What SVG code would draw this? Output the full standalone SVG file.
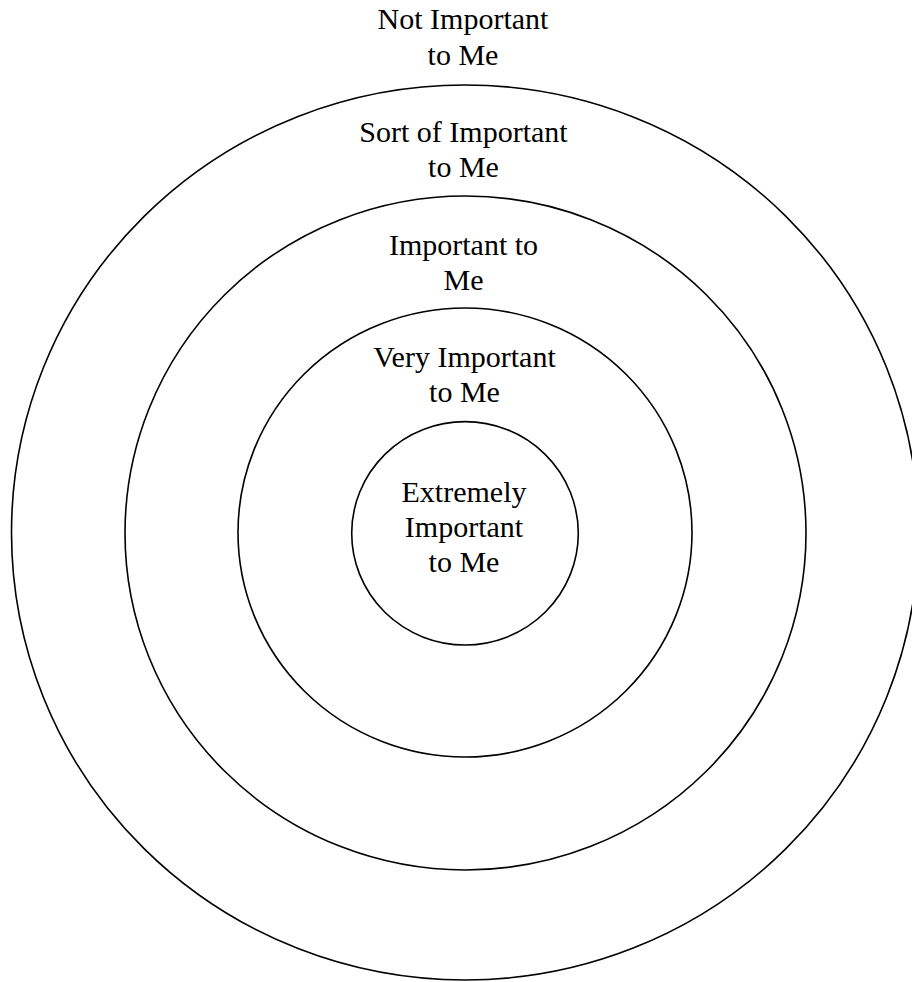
<svg xmlns="http://www.w3.org/2000/svg" width="912" height="982" viewBox="0 0 912 982">
  <style>
    .ring { fill: none; stroke: #000; stroke-width: 1.6; }
    .lbl { font-family: "Liberation Serif", "Times New Roman", serif; font-size: 30px; fill: #000; text-anchor: middle; }
  </style>
  <rect x="0" y="0" width="912" height="982" fill="#fff"/>
  <g id="connectors"></g>
  <g id="not-important">
    <text class="lbl" x="463" y="29">Not Important</text>
    <text class="lbl" x="463" y="65">to Me</text>
  </g>
  <g id="sort-of-important">
    <ellipse class="ring" cx="465" cy="532.5" rx="453.5" ry="447.5"/>
    <text class="lbl" x="463.5" y="142">Sort of Important</text>
    <text class="lbl" x="463.5" y="177">to Me</text>
  </g>
  <g id="important">
    <ellipse class="ring" cx="465.5" cy="533" rx="340.5" ry="337"/>
    <text class="lbl" x="463.5" y="255">Important to</text>
    <text class="lbl" x="463.5" y="290">Me</text>
  </g>
  <g id="very-important">
    <ellipse class="ring" cx="465" cy="532.5" rx="227" ry="224.5"/>
    <text class="lbl" x="464.5" y="367">Very Important</text>
    <text class="lbl" x="464.5" y="402">to Me</text>
  </g>
  <g id="extremely-important">
    <ellipse class="ring" cx="465" cy="533.3" rx="113.3" ry="111.7"/>
    <text class="lbl" x="464" y="502">Extremely</text>
    <text class="lbl" x="464" y="537">Important</text>
    <text class="lbl" x="464" y="572">to Me</text>
  </g>
</svg>
